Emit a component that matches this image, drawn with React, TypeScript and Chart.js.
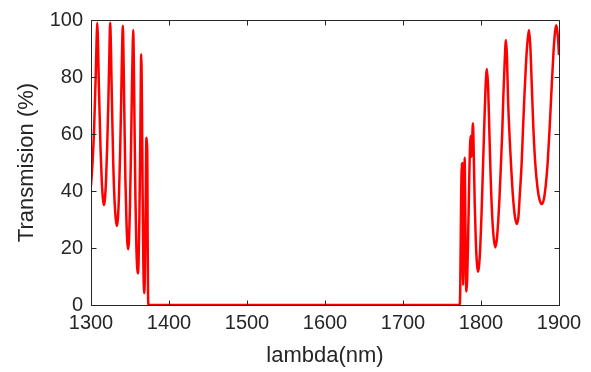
import React, { useEffect, useRef } from "react";
import { Chart, registerables } from "chart.js";

Chart.register(...registerables);

// Wavelength (nm) and transmission (%)
const lambdaLeft = [
  1300, 1302, 1304, 1306, 1307.2, 1308, 1308.8, 1310, 1312.2, 1313.9, 1315.2, 1316.4,
  1317.8, 1319.3, 1320.8, 1322.3, 1323.6, 1324.6, 1325.5, 1326.7, 1328.5, 1330.3, 1331.8, 1333.1,
  1334.4, 1335.8, 1337.3, 1338.7, 1339.9, 1340.8, 1341.6, 1342.7, 1344.1, 1345.5, 1346.6, 1347.7,
  1348.8, 1350, 1351.3, 1352.6, 1353.5, 1354.1, 1354.8, 1355.8, 1357, 1358.2, 1359.1, 1360,
  1361, 1362, 1363.2, 1364.4, 1365.2, 1366.1, 1367.1, 1368.2,
  1369.1, 1370.1, 1371.0, 1371.6, 1372.2, 1372.6, 1373.2, 1374,
];
const transLeft = [
  42, 50, 62, 80, 93, 99, 94, 78, 55, 43, 37.5, 35.1,
  37, 44, 56, 72, 89, 99, 91, 73, 50, 36, 30, 27.7,
  30, 38, 53, 72, 90, 98, 89, 68, 44, 29, 22, 19.6,
  23, 35, 55, 78, 91, 96.5, 88, 63, 37, 20, 13.5, 11.1,
  15, 30, 58, 88, 74, 42, 15, 4.1,
  11, 35, 58.7, 57, 52, 25, 2, 0,
];

const lambdaRight = [
  1772.6, 1773.4, 1774.4, 1775.6, 1776.4, 1777.1, 1778, 1779, 1780, 1781.2,
  1782.3, 1783.6, 1785.2, 1786.7, 1787.8, 1789.7, 1790.8, 1792, 1793.4, 1794.8, 1796.1,
  1797.4, 1799, 1800.7, 1802.4, 1804.2, 1805.8, 1807.6, 1809.2, 1810.8, 1812.6, 1814.6, 1816.5, 1818.4,
  1820.3, 1822.2, 1823.8, 1825.6, 1827.3, 1828.6, 1830.3, 1832, 1833.3, 1834.6, 1836.3, 1838.4, 1841, 1843.5, 1846,
  1848, 1849.6, 1852.1, 1853.8, 1855.6, 1857.7, 1859.8, 1861.5, 1863.2, 1865, 1867, 1869.5, 1872.5, 1875, 1877.8,
  1880.5, 1883, 1885.5, 1888, 1890.5, 1893, 1895, 1896.6, 1898.3, 1900,
];
const transRight = [
  0, 6, 35, 49.7, 25, 7, 30, 51.7, 28, 4.7,
  9, 25, 48, 59.3, 52, 63.8, 52, 35, 22, 14.5, 11.7,
  13.5, 20, 32, 47, 63, 76, 82.8, 76, 60, 43, 30, 23, 20.2,
  23, 30, 38, 49.7, 61, 73, 85, 93, 87, 73, 61, 49.7, 38, 31, 28.4,
  31, 38, 49.7, 61.4, 73, 84.8, 93, 96.5, 91, 78, 63, 50, 41, 37, 35.4,
  37, 42, 50, 62, 76, 89, 96, 98.2, 95, 87.7,
];

const xTicks = [1300, 1400, 1500, 1600, 1700, 1800, 1900];
const yTicks = [0, 20, 40, 60, 80, 100];

const AXIS_COLOR = "#262626";

const boxPlugin = {
  id: "matlabBox",
  afterDatasetsDraw(chart: any) {
    const { ctx, chartArea, scales } = chart;
    const { left, right, top, bottom } = chartArea;
    ctx.save();
    ctx.strokeStyle = AXIS_COLOR;
    ctx.lineWidth = 1;
    ctx.beginPath();
    ctx.rect(left + 0.5, top + 0.5, right - left, bottom - top);
    const tl = 5;
    xTicks.forEach((v) => {
      const x = Math.round(scales.x.getPixelForValue(v)) + 0.5;
      ctx.moveTo(x, bottom + 0.5);
      ctx.lineTo(x, bottom + 0.5 - tl);
      ctx.moveTo(x, top + 0.5);
      ctx.lineTo(x, top + 0.5 + tl);
    });
    yTicks.forEach((v) => {
      const y = Math.round(scales.y.getPixelForValue(v)) + 0.5;
      ctx.moveTo(left + 0.5, y);
      ctx.lineTo(left + 0.5 + tl, y);
      ctx.moveTo(right + 0.5, y);
      ctx.lineTo(right + 0.5 - tl, y);
    });
    ctx.stroke();
    ctx.restore();
  },
};

export default function App() {
  const ref = useRef<HTMLCanvasElement>(null);
  useEffect(() => {
    if (!ref.current) return;
    Chart.defaults.font.family = "'Liberation Sans', Arial, sans-serif";
    const points = [
      ...lambdaLeft.map((x, i) => ({ x, y: transLeft[i] })),
      ...lambdaRight.map((x, i) => ({ x, y: transRight[i] })),
    ];
    const chart = new Chart(ref.current, {
      type: "line",
      data: {
        datasets: [
          {
            data: points,
            borderColor: "#ff0000",
            borderWidth: 2.5,
            pointRadius: 0,
            cubicInterpolationMode: "monotone",
            fill: false,
          },
        ],
      },
      options: {
        responsive: false,
        animation: false,
        parsing: false as any,
        layout: { padding: { left: 0, top: 20, right: 32, bottom: 0 } },
        plugins: { legend: { display: false }, tooltip: { enabled: false } },
        scales: {
          x: {
            type: "linear",
            min: 1300,
            max: 1900,
            afterBuildTicks: (s: any) => {
              s.ticks = xTicks.map((v) => ({ value: v }));
            },
            afterFit: (s: any) => {
              s.height = 67;
            },
            grid: { display: false, drawTicks: false },
            border: { display: false },
            ticks: {
              color: AXIS_COLOR,
              font: { size: 20 },
              padding: 6,
              maxRotation: 0,
              callback: (v: any) => String(v),
            },
            title: {
              display: true,
              text: "lambda(nm)",
              color: AXIS_COLOR,
              font: { size: 22 },
              padding: { top: 0, bottom: 3 },
            },
          },
          y: {
            type: "linear",
            min: 0,
            max: 100,
            afterBuildTicks: (s: any) => {
              s.ticks = yTicks.map((v) => ({ value: v }));
            },
            afterFit: (s: any) => {
              s.width = 91;
            },
            grid: { display: false, drawTicks: false },
            border: { display: false },
            ticks: {
              color: AXIS_COLOR,
              font: { size: 20 },
              padding: 8,
              callback: (v: any) => String(v),
            },
            title: {
              display: true,
              text: "Transmision (%)",
              color: AXIS_COLOR,
              font: { size: 22 },
              padding: { top: 14, bottom: 0 },
            },
          },
        },
      },
      plugins: [boxPlugin],
    });
    return () => chart.destroy();
  }, []);
  return (
    <div style={{ position: "fixed", left: 0, top: 0, width: 591, height: 372, background: "#fff" }}>
      <canvas ref={ref} width={591} height={372} />
    </div>
  );
}
